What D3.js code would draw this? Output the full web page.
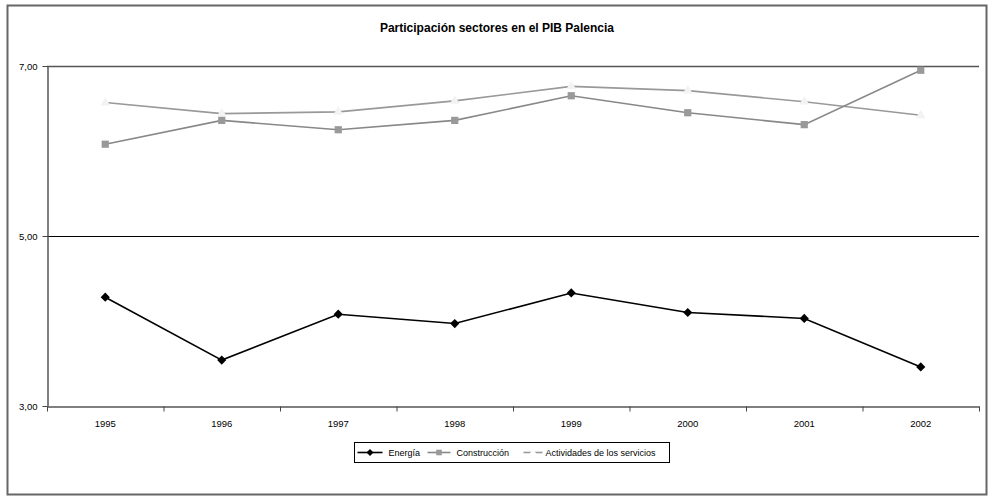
<!DOCTYPE html>
<html>
<head>
<meta charset="utf-8">
<script src="https://cdn.jsdelivr.net/npm/d3@7"></script>
<style>
  body { margin: 0; background: #fff; }
  text { font-family: Arial, "Liberation Sans", sans-serif; }
</style>
</head>
<body>
<div id="chart"></div>
<script>
var width = 990,
  height = 497;

var years = ["1995", "1996", "1997", "1998", "1999", "2000", "2001", "2002"];
var energia = [4.28, 3.54, 4.08, 3.97, 4.33, 4.10, 4.03, 3.46];
var construccion = [6.08, 6.36, 6.25, 6.36, 6.65, 6.45, 6.31, 6.95];
var servicios = [6.57, 6.44, 6.46, 6.59, 6.76, 6.71, 6.58, 6.42];
var yTicks = [3, 5, 7];
var seriesNames = ["Energía", "Construcción", "Actividades de los servicios"];

var margin = { left: 47, right: 11, top: 66, bottom: 91 };

var svg = d3.select("#chart").append("svg")
  .attr("width", width)
  .attr("height", height);

// outer frame
svg.append("rect")
  .attr("x", 7.5).attr("y", 5.5)
  .attr("width", 979).attr("height", 489)
  .attr("fill", "#fff")
  .attr("stroke", "#666")
  .attr("stroke-width", 2);

svg.append("text")
  .attr("x", 497).attr("y", 32)
  .attr("text-anchor", "middle")
  .style("font-size", "12px")
  .style("font-weight", "bold")
  .text("Participación sectores en el PIB Palencia");

var x = d3.scaleBand()
  .domain(years)
  .range([margin.left, width - margin.right]);

var y = d3.scaleLinear()
  .domain([3, 7])
  .range([height - margin.bottom, margin.top]);

var fmt = function(d) { return d3.format(".2f")(d).replace(".", ","); };

// gridlines
svg.append("g")
  .selectAll("line")
  .data(yTicks.filter(function(d) { return d > 3; }))
  .enter().append("line")
  .attr("x1", margin.left).attr("x2", width - margin.right)
  .attr("y1", function(d) { return Math.round(y(d)) + 0.5; })
  .attr("y2", function(d) { return Math.round(y(d)) + 0.5; })
  .attr("stroke", function(d) { return d == 7 ? "#555" : "#000"; })
  .attr("stroke-width", function(d) { return d == 7 ? 1.5 : 1; });

// y axis
var yAxis = svg.append("g")
  .attr("transform", "translate(" + (margin.left + 0.5) + ",0)")
  .call(d3.axisLeft(y).tickValues(yTicks).tickFormat(fmt).tickSize(5).tickPadding(5).tickSizeOuter(0));

// x axis
var xAxis = svg.append("g")
  .attr("transform", "translate(0," + (Math.round(y(3)) + 0.5) + ")")
  .call(d3.axisBottom(x).tickSize(0).tickSizeOuter(0));

xAxis.selectAll("text").attr("dy", "1.85em");

// ticks between categories
xAxis.selectAll("line.sep")
  .data(years.concat(["end"]))
  .enter().append("line")
  .attr("class", "sep")
  .attr("x1", function(d, i) { return margin.left + i * x.bandwidth() + 0.5; })
  .attr("x2", function(d, i) { return margin.left + i * x.bandwidth() + 0.5; })
  .attr("y1", 0).attr("y2", 5)
  .attr("stroke", "#444");

svg.selectAll(".domain").attr("stroke", "#555").attr("stroke-width", 1.5);
yAxis.selectAll(".tick line").attr("stroke", "#444");
svg.selectAll(".tick text").style("font-size", "9.5px").attr("fill", "#000");

var line = d3.line()
  .x(function(d, i) { return x(years[i]) + x.bandwidth() / 2; })
  .y(function(d) { return y(d); });

var series = [
  { name: seriesNames[0], values: energia, stroke: "#000", fill: "#000", symbol: d3.symbolSquare, rotate: 45, size: 42, width: 1.6 },
  { name: seriesNames[1], values: construccion, stroke: "#888", fill: "#999", symbol: d3.symbolSquare, rotate: 0, size: 52, width: 1.6 },
  { name: seriesNames[2], values: servicios, stroke: "#999", fill: "#f3f3f3", symbol: d3.symbolTriangle, rotate: 0, size: 42, width: 1.6 }
];

series.slice().reverse().forEach(function(s) {
  svg.append("path")
    .datum(s.values)
    .attr("fill", "none")
    .attr("stroke", s.stroke)
    .attr("stroke-width", s.width)
    .attr("d", line);

  svg.append("g").selectAll("path")
    .data(s.values)
    .enter().append("path")
    .attr("transform", function(d, i) {
      return "translate(" + (x(years[i]) + x.bandwidth() / 2) + "," + y(d) + ") rotate(" + s.rotate + ")";
    })
    .attr("d", d3.symbol().type(s.symbol).size(s.size))
    .attr("fill", s.fill);
});

// legend
var legend = svg.append("g").attr("transform", "translate(354.5,442.5)");
legend.append("rect")
  .attr("width", 315).attr("height", 20)
  .attr("fill", "#fff").attr("stroke", "#000");

var legendPos = [
  { lx: 3, lw: 25, tx: 34 },
  { lx: 73, lw: 23, tx: 102 },
  { lx: 169, lw: 19, tx: 191 }
];

series.forEach(function(s, i) {
  var g = legend.append("g").attr("transform", "translate(" + legendPos[i].lx + ",10)");
  g.append("line")
    .attr("x1", 0).attr("x2", legendPos[i].lw)
    .attr("stroke", s.stroke).attr("stroke-width", s.width);
  g.append("path")
    .attr("transform", "translate(" + (legendPos[i].lw / 2) + ",0) rotate(" + s.rotate + ")")
    .attr("d", d3.symbol().type(s.symbol).size(s.size * 0.6))
    .attr("fill", i == 2 ? "#fff" : s.fill);
  legend.append("text")
    .attr("x", legendPos[i].tx).attr("y", 13.5)
    .style("font-size", "9px")
    .text(s.name);
});
</script>
</body>
</html>
